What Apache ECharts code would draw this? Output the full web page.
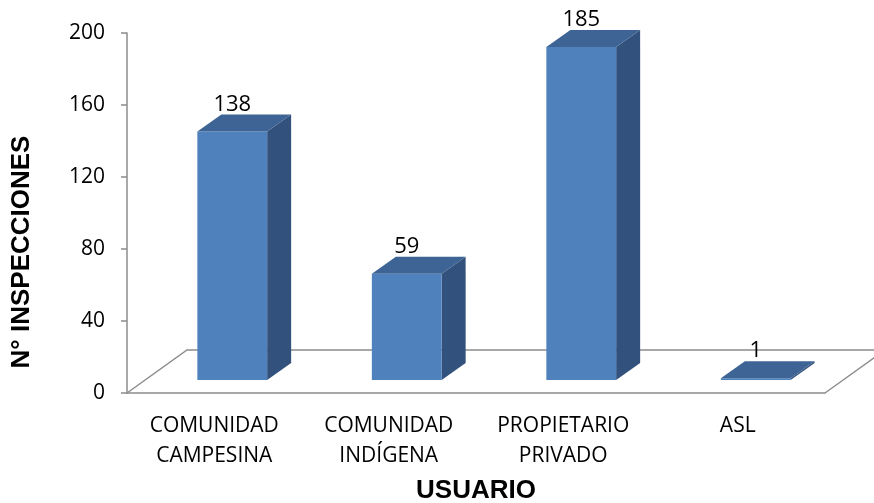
<!DOCTYPE html>
<html>
<head>
<meta charset="utf-8">
<script src="https://cdn.jsdelivr.net/npm/echarts@6/dist/echarts.min.js"></script>
<style>
  html, body { margin: 0; padding: 0; background: #fff; }
  #main { width: 874px; height: 503px; }
</style>
</head>
<body>
<div id="main"></div>
<script>
// data
const categories = ['COMUNIDAD\nCAMPESINA', 'COMUNIDAD\nINDÍGENA', 'PROPIETARIO\nPRIVADO', 'ASL'];
const inspecciones = [138, 59, 185, 1];
const yTicks = { min: 0, max: 200, interval: 40 };

// fake 3D look (pixels)
const FLOOR_DX = 60, FLOOR_DY = -43;   // full depth of the floor
const FRONT_DX = 18, FRONT_DY = -13;   // bar front face sits this far back
const SIDE_DX = 24, SIDE_DY = -17;     // bar depth
const gray = '#8c8c8c';
const font = '"Open Sans", sans-serif';
const boldFont = '"Liberation Sans", Arial, sans-serif';

const myChart = echarts.init(document.getElementById('main'));

const option = {
    animation: false,
    grid: { left: 127, right: 49, top: 33, bottom: 110, outerBoundsMode: 'none' },
    graphic: [{
        // y axis title sits lower than the axis middle in the original
        type: 'text',
        x: 22, y: 252,
        rotation: Math.PI / 2,
        style: { text: 'N° INSPECCIONES', fontFamily: boldFont, fontWeight: 'bold', fontSize: 26, fill: '#000', align: 'center', verticalAlign: 'middle' }
    }],
    xAxis: {
        type: 'category',
        data: categories,
        name: 'USUARIO',
        nameLocation: 'middle',
        nameGap: 85,
        nameTextStyle: { fontFamily: boldFont, fontWeight: 'bold', fontSize: 26, color: '#000' },
        axisLine: { lineStyle: { color: gray, width: 1.5 } },
        axisTick: { length: 7, lineStyle: { color: gray, width: 1.5 } },
        axisLabel: { fontFamily: font, fontSize: 21, color: '#000', lineHeight: 30, margin: 18 }
    },
    yAxis: {
        type: 'value',
        min: yTicks.min,
        max: yTicks.max,
        interval: yTicks.interval,
        axisLine: { show: true, lineStyle: { color: gray, width: 1.5 } },
        axisTick: { show: true, length: 6, lineStyle: { color: gray, width: 1.5 } },
        splitLine: { show: false },
        axisLabel: { fontFamily: font, fontSize: 21, color: '#000', margin: 22 }
    },
    series: [
        {
            // floor of the 3D box
            type: 'custom',
            z: 1,
            silent: true,
            data: [0],
            renderItem: function (params, api) {
                const cs = params.coordSys;
                const l = cs.x, r = cs.x + cs.width, b = cs.y + cs.height;
                const style = { stroke: gray, lineWidth: 1.5, fill: null };
                return {
                    type: 'group',
                    children: [
                        { type: 'polyline', shape: { points: [[l, b], [l + FLOOR_DX, b + FLOOR_DY], [r + FLOOR_DX, b + FLOOR_DY]] }, style: style },
                        { type: 'line', shape: { x1: r, y1: b, x2: r + FLOOR_DX, y2: b + FLOOR_DY }, style: style }
                    ]
                };
            }
        },
        {
            type: 'custom',
            z: 3,
            data: inspecciones.map((v, i) => [i, v]),
            renderItem: function (params, api) {
                const i = api.value(0), v = api.value(1);
                const base = api.coord([i, 0]);
                const top = api.coord([i, v]);
                const w = api.size([1, 0])[0] * 0.4;
                const cx = base[0] + FRONT_DX;
                const x0 = cx - w / 2, x1 = cx + w / 2;
                const yb = base[1] + FRONT_DY, yt = top[1] + FRONT_DY;
                return {
                    type: 'group',
                    children: [
                        { type: 'polygon', shape: { points: [[x1, yt], [x1, yb], [x1 + SIDE_DX, yb + SIDE_DY], [x1 + SIDE_DX, yt + SIDE_DY]] }, style: { fill: '#32527d' } },
                        { type: 'rect', shape: { x: x0, y: yt, width: w, height: Math.max(yb - yt, 0.5) }, style: { fill: '#4f81bd' } },
                        { type: 'polygon', shape: { points: [[x0, yt], [x1, yt], [x1 + SIDE_DX, yt + SIDE_DY], [x0 + SIDE_DX, yt + SIDE_DY]] }, style: { fill: '#3d6494' } },
                        { type: 'text', x: cx, y: yt - 27, style: { text: String(v), fontFamily: font, fontSize: 22, fill: '#000', align: 'center', verticalAlign: 'middle' } }
                    ]
                };
            }
        }
    ]
};

myChart.setOption(option);
</script>
</body>
</html>
